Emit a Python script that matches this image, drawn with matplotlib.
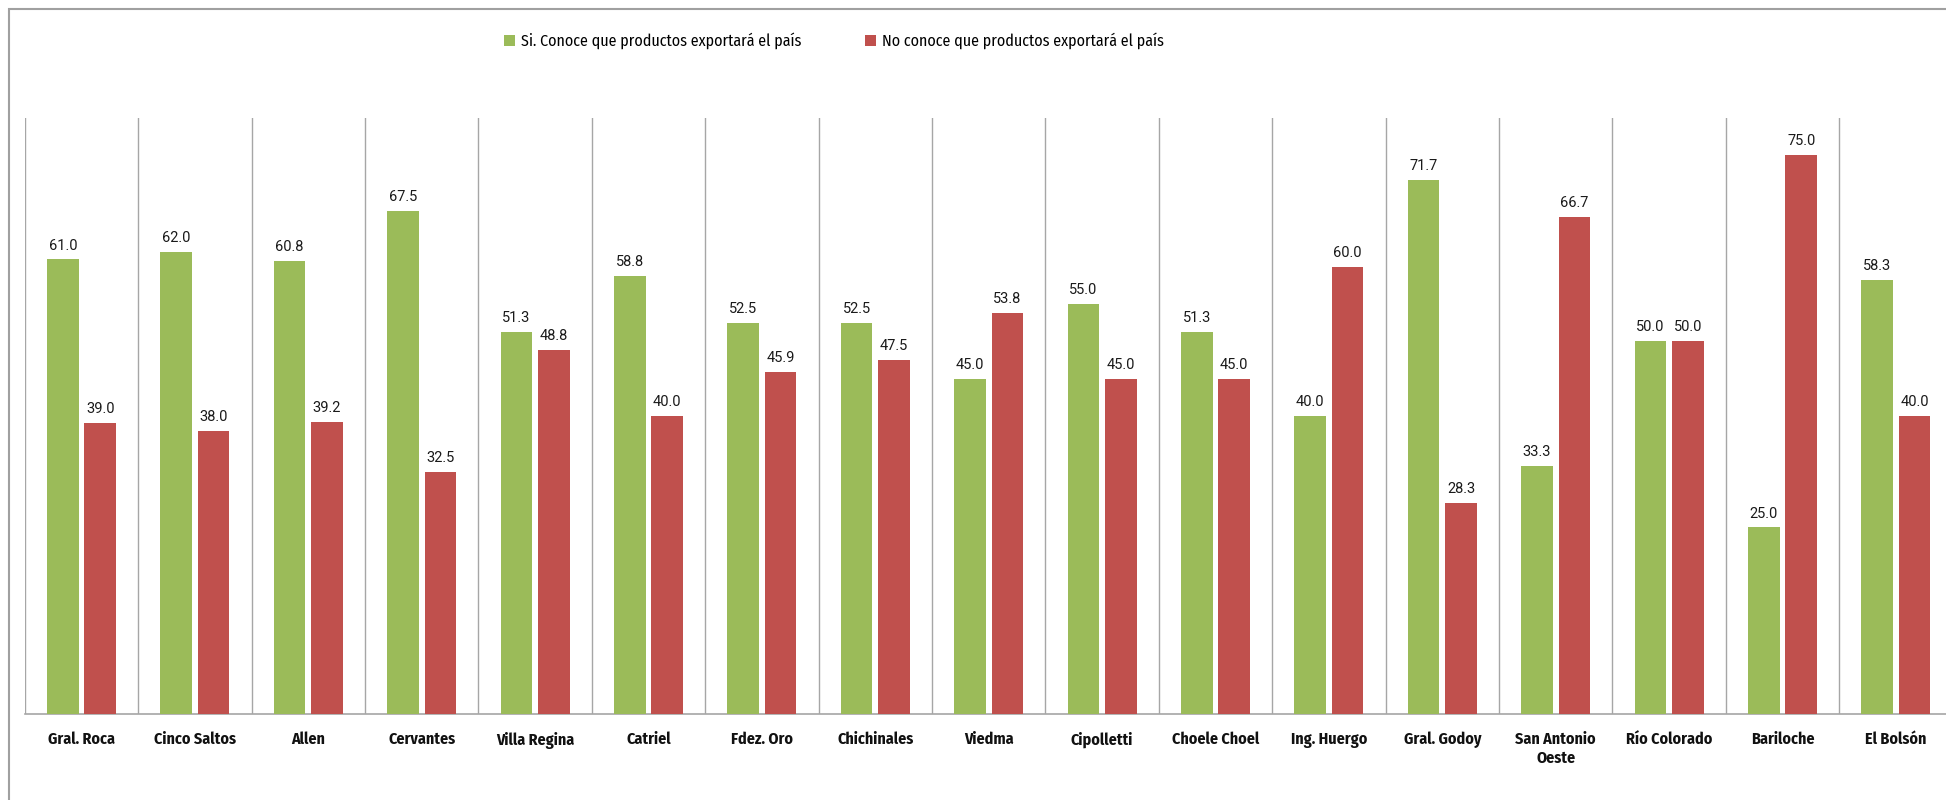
import matplotlib
matplotlib.use("Agg")
import matplotlib.pyplot as plt
from matplotlib.patches import Rectangle, Patch
import numpy as np

categories = ["Gral. Roca", "Cinco Saltos", "Allen", "Cervantes", "Villa Regina",
              "Catriel", "Fdez. Oro", "Chichinales", "Viedma", "Cipolletti",
              "Choele Choel", "Ing. Huergo", "Gral. Godoy", "San Antonio\nOeste",
              "Río Colorado", "Bariloche", "El Bolsón"]
si_conoce = [61.0, 62.0, 60.8, 67.5, 51.3, 58.8, 52.5, 52.5, 45.0, 55.0,
             51.3, 40.0, 71.7, 33.3, 50.0, 25.0, 58.3]
no_conoce = [39.0, 38.0, 39.2, 32.5, 48.8, 40.0, 45.9, 47.5, 53.8, 45.0,
             45.0, 60.0, 28.3, 66.7, 50.0, 75.0, 40.0]
series_names = ["Si. Conoce que productos exportará el país",
                "No conoce que productos exportará el país"]

GREEN = "#9BBB59"
RED = "#C0504D"
GRID = "#A6A6A6"

narrow = ["Fira Sans Condensed", "DejaVu Sans"]
label_font = ["Roboto", "DejaVu Sans"]

W, H = 1946, 800
fig = plt.figure(figsize=(W / 100, H / 100), dpi=100)

# outer chart border (cropped on right/bottom)
fig.add_artist(Rectangle((9 / W, -0.2), 1.3, 1.2 - 9 / H,
                         transform=fig.transFigure, fill=False,
                         edgecolor="#A0A0A0", lw=1.5, clip_on=False))

left = 24.8 / W
cat_w = 113.4 / W
n = len(categories)
bottom = 1 - 713.6 / H
top = 1 - 118 / H
ax = fig.add_axes([left, bottom, cat_w * n, top - bottom])

x = np.arange(n)
bw = 0.28
off = 0.165
b1 = ax.bar(x - off, si_conoce, width=bw, color=GREEN, zorder=3)
b2 = ax.bar(x + off, no_conoce, width=bw, color=RED, zorder=3)

for bars, vals in ((b1, si_conoce), (b2, no_conoce)):
    for rect, v in zip(bars, vals):
        ax.annotate(f"{v:.1f}", (rect.get_x() + rect.get_width() / 2, v),
                    xytext=(0, 5), textcoords="offset points",
                    ha="center", va="bottom", fontsize=10.5,
                    family=label_font, color="#1a1a1a")

ax.set_xlim(-0.5, n - 0.5)
ax.set_ylim(0, 80)
ax.set_yticks([])
ax.set_xticks(x)
ax.set_xticklabels(categories, fontsize=11.5, fontweight="bold",
                   family=narrow, color="#111111", linespacing=1.2)
ax.set_xticks(np.arange(n + 1) - 0.5, minor=True)
ax.tick_params(axis="x", which="both", length=0, pad=13)
ax.grid(axis="x", which="minor", color=GRID, lw=1.0, zorder=0)
ax.grid(axis="x", which="major", visible=False)
for s in ("top", "right", "left"):
    ax.spines[s].set_visible(False)
ax.spines["bottom"].set_color(GRID)
ax.spines["bottom"].set_linewidth(1.2)

handles = [Patch(facecolor=GREEN), Patch(facecolor=RED)]
fig.legend(handles, series_names, loc="center",
           bbox_to_anchor=((511 + 1157) / 2 / W, 1 - 41 / H),
           ncol=2, frameon=False, prop={"family": narrow, "size": 11.5},
           handlelength=0.7, handleheight=0.7, handletextpad=0.35,
           columnspacing=4.0)

fig.savefig("out.png", dpi=100)
